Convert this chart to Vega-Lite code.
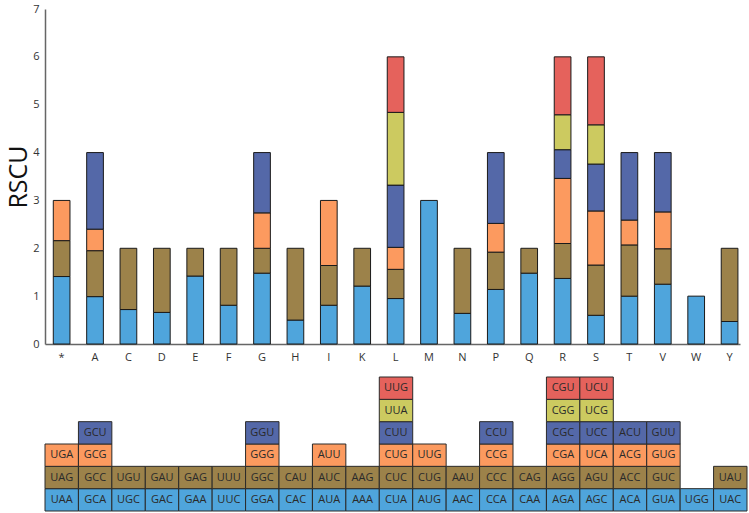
{
  "$schema": "https://vega.github.io/schema/vega-lite/v6.json",
  "padding": {"left": 6, "top": 3, "right": 0, "bottom": 0},
  "background": "white",
  "config": {"view": {"stroke": null}, "font": "Open Sans", "concat": {"spacing": 14}},
  "datasets": {
    "codons": [
      {"aa": "*", "codon": "UAA", "level": 1, "rscu": 1.41},
      {"aa": "*", "codon": "UAG", "level": 2, "rscu": 0.75},
      {"aa": "*", "codon": "UGA", "level": 3, "rscu": 0.84},
      {"aa": "A", "codon": "GCA", "level": 1, "rscu": 0.99},
      {"aa": "A", "codon": "GCC", "level": 2, "rscu": 0.96},
      {"aa": "A", "codon": "GCG", "level": 3, "rscu": 0.45},
      {"aa": "A", "codon": "GCU", "level": 4, "rscu": 1.60},
      {"aa": "C", "codon": "UGC", "level": 1, "rscu": 0.72},
      {"aa": "C", "codon": "UGU", "level": 2, "rscu": 1.28},
      {"aa": "D", "codon": "GAC", "level": 1, "rscu": 0.66},
      {"aa": "D", "codon": "GAU", "level": 2, "rscu": 1.34},
      {"aa": "E", "codon": "GAA", "level": 1, "rscu": 1.42},
      {"aa": "E", "codon": "GAG", "level": 2, "rscu": 0.58},
      {"aa": "F", "codon": "UUC", "level": 1, "rscu": 0.81},
      {"aa": "F", "codon": "UUU", "level": 2, "rscu": 1.19},
      {"aa": "G", "codon": "GGA", "level": 1, "rscu": 1.48},
      {"aa": "G", "codon": "GGC", "level": 2, "rscu": 0.52},
      {"aa": "G", "codon": "GGG", "level": 3, "rscu": 0.74},
      {"aa": "G", "codon": "GGU", "level": 4, "rscu": 1.26},
      {"aa": "H", "codon": "CAC", "level": 1, "rscu": 0.50},
      {"aa": "H", "codon": "CAU", "level": 2, "rscu": 1.50},
      {"aa": "I", "codon": "AUA", "level": 1, "rscu": 0.81},
      {"aa": "I", "codon": "AUC", "level": 2, "rscu": 0.83},
      {"aa": "I", "codon": "AUU", "level": 3, "rscu": 1.36},
      {"aa": "K", "codon": "AAA", "level": 1, "rscu": 1.21},
      {"aa": "K", "codon": "AAG", "level": 2, "rscu": 0.79},
      {"aa": "L", "codon": "CUA", "level": 1, "rscu": 0.95},
      {"aa": "L", "codon": "CUC", "level": 2, "rscu": 0.61},
      {"aa": "L", "codon": "CUG", "level": 3, "rscu": 0.46},
      {"aa": "L", "codon": "CUU", "level": 4, "rscu": 1.30},
      {"aa": "L", "codon": "UUA", "level": 5, "rscu": 1.52},
      {"aa": "L", "codon": "UUG", "level": 6, "rscu": 1.16},
      {"aa": "M", "codon": "AUG", "level": 1, "rscu": 3.00},
      {"aa": "M", "codon": "CUG", "level": 2, "rscu": 0},
      {"aa": "M", "codon": "UUG", "level": 3, "rscu": 0},
      {"aa": "N", "codon": "AAC", "level": 1, "rscu": 0.64},
      {"aa": "N", "codon": "AAU", "level": 2, "rscu": 1.36},
      {"aa": "P", "codon": "CCA", "level": 1, "rscu": 1.14},
      {"aa": "P", "codon": "CCC", "level": 2, "rscu": 0.78},
      {"aa": "P", "codon": "CCG", "level": 3, "rscu": 0.60},
      {"aa": "P", "codon": "CCU", "level": 4, "rscu": 1.48},
      {"aa": "Q", "codon": "CAA", "level": 1, "rscu": 1.48},
      {"aa": "Q", "codon": "CAG", "level": 2, "rscu": 0.52},
      {"aa": "R", "codon": "AGA", "level": 1, "rscu": 1.37},
      {"aa": "R", "codon": "AGG", "level": 2, "rscu": 0.73},
      {"aa": "R", "codon": "CGA", "level": 3, "rscu": 1.36},
      {"aa": "R", "codon": "CGC", "level": 4, "rscu": 0.60},
      {"aa": "R", "codon": "CGG", "level": 5, "rscu": 0.73},
      {"aa": "R", "codon": "CGU", "level": 6, "rscu": 1.21},
      {"aa": "S", "codon": "AGC", "level": 1, "rscu": 0.60},
      {"aa": "S", "codon": "AGU", "level": 2, "rscu": 1.05},
      {"aa": "S", "codon": "UCA", "level": 3, "rscu": 1.13},
      {"aa": "S", "codon": "UCC", "level": 4, "rscu": 0.98},
      {"aa": "S", "codon": "UCG", "level": 5, "rscu": 0.82},
      {"aa": "S", "codon": "UCU", "level": 6, "rscu": 1.42},
      {"aa": "T", "codon": "ACA", "level": 1, "rscu": 1.00},
      {"aa": "T", "codon": "ACC", "level": 2, "rscu": 1.07},
      {"aa": "T", "codon": "ACG", "level": 3, "rscu": 0.52},
      {"aa": "T", "codon": "ACU", "level": 4, "rscu": 1.41},
      {"aa": "V", "codon": "GUA", "level": 1, "rscu": 1.25},
      {"aa": "V", "codon": "GUC", "level": 2, "rscu": 0.74},
      {"aa": "V", "codon": "GUG", "level": 3, "rscu": 0.77},
      {"aa": "V", "codon": "GUU", "level": 4, "rscu": 1.24},
      {"aa": "W", "codon": "UGG", "level": 1, "rscu": 1.00},
      {"aa": "Y", "codon": "UAC", "level": 1, "rscu": 0.47},
      {"aa": "Y", "codon": "UAU", "level": 2, "rscu": 1.53}
    ]
  },
  "vconcat": [
    {
      "width": 695,
      "height": 335,
      "data": {"name": "codons"},
      "transform": [{"filter": "datum.rscu > 0"}],
      "mark": {"type": "bar", "stroke": "#1a1a1a", "strokeWidth": 1},
      "encoding": {
        "x": {
          "field": "aa", "type": "nominal",
          "scale": {"domain": ["*","A","C","D","E","F","G","H","I","K","L","M","N","P","Q","R","S","T","V","W","Y"], "paddingInner": 0.5, "paddingOuter": 0.155, "align": 0.8},
          "axis": {"title": null, "labelAngle": 0, "ticks": false, "labelFontSize": 11, "labelColor": "#333", "labelPadding": 7, "domainColor": "#666", "domainWidth": 1.5, "labelFont": "Open Sans"}
        },
        "y": {
          "field": "rscu", "type": "quantitative", "stack": "zero",
          "scale": {"domain": [0, 7], "nice": false},
          "axis": {"title": "RSCU", "titleFontSize": 25, "titleFontWeight": "normal", "titleColor": "#111", "titlePadding": 1, "values": [0,1,2,3,4,5,6,7], "grid": false, "ticks": false, "labelFontSize": 11, "labelColor": "#333", "labelPadding": 6, "domainColor": "#666", "domainWidth": 1.5, "labelFont": "Open Sans"}
        },
        "color": {
          "field": "level", "type": "ordinal",
          "scale": {"domain": [1,2,3,4,5,6], "range": ["#4FA5DC","#9C824A","#FC9A5F","#5468A8","#CCCA60","#E5625C"]},
          "legend": null
        },
        "order": {"field": "level", "type": "quantitative", "sort": "ascending"}
      }
    },
    {
      "width": 702,
      "height": 134,
      "data": {"name": "codons"},
      "encoding": {
        "x": {
          "field": "aa", "type": "nominal",
          "scale": {"domain": ["*","A","C","D","E","F","G","H","I","K","L","M","N","P","Q","R","S","T","V","W","Y"], "paddingInner": 0, "paddingOuter": 0},
          "axis": null
        },
        "y": {
          "field": "level", "type": "ordinal",
          "scale": {"domain": [6,5,4,3,2,1], "paddingInner": 0, "paddingOuter": 0},
          "axis": null
        }
      },
      "layer": [
        {
          "mark": {"type": "rect", "stroke": "#2a2a2a", "strokeWidth": 1},
          "encoding": {
            "color": {
              "field": "level", "type": "ordinal",
              "scale": {"domain": [1,2,3,4,5,6], "range": ["#4FA5DC","#9C824A","#FC9A5F","#5468A8","#CCCA60","#E5625C"]},
              "legend": null
            }
          }
        },
        {
          "mark": {"type": "text", "fontSize": 11, "color": "#2a2a2a", "font": "Open Sans"},
          "encoding": {"text": {"field": "codon"}}
        }
      ]
    }
  ]
}
